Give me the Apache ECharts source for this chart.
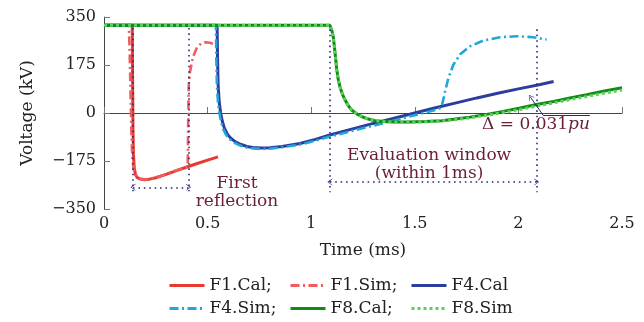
<!DOCTYPE html>
<html>
<head>
<meta charset="utf-8">
<script src="https://cdn.jsdelivr.net/npm/echarts@6/dist/echarts.min.js"></script>
<style>
  html, body { margin: 0; padding: 0; background: #fff; }
  #chart { width: 644px; height: 322px; }
</style>
</head>
<body>
<div id="chart"></div>
<script>
// [time (ms), voltage (kV)]
var f1Cal = [[0, 320], [0.136, 320], [0.137, 280], [0.138, 120], [0.14, -60], [0.142, -150], [0.146, -200],
  [0.152, -224], [0.16, -235], [0.175, -241], [0.195, -243], [0.215, -242], [0.25, -236], [0.3, -224],
  [0.35, -210], [0.4, -197], [0.45, -184], [0.5, -172], [0.55, -160]]
var f1Sim = [[0, 320], [0.12, 320], [0.124, 220], [0.128, 80], [0.132, -60], [0.136, -150], [0.142, -200],
  [0.15, -223], [0.16, -234], [0.175, -240], [0.195, -242], [0.215, -241], [0.25, -235], [0.3, -223],
  [0.35, -209], [0.404, -195], [0.406, -50], [0.409, 100], [0.415, 150], [0.43, 205], [0.449, 240],
  [0.47, 254], [0.49, 258], [0.51, 256], [0.533, 251]]
var f4Cal = [[0, 320], [0.546, 320], [0.548, 200], [0.551, 100], [0.556, 40], [0.563, 0], [0.571, -30],
  [0.581, -55], [0.596, -78], [0.612, -92], [0.636, -106], [0.662, -115], [0.69, -122], [0.72, -126],
  [0.76, -128], [0.8, -127], [0.86, -122], [0.946, -111], [1.02, -96], [1.09, -80], [1.2, -58],
  [1.3, -38], [1.4, -19], [1.5, 0], [1.6, 19], [1.7, 37], [1.8, 55], [1.9, 72], [2.0, 88], [2.1, 103],
  [2.17, 115]]
var f4Sim = [[0, 320], [0.54, 320], [0.542, 200], [0.545, 100], [0.55, 40], [0.557, 0], [0.565, -32],
  [0.575, -58], [0.59, -81], [0.605, -95], [0.63, -109], [0.655, -118], [0.69, -126], [0.72, -129],
  [0.76, -131], [0.8, -130], [0.86, -125], [0.946, -115], [1.02, -101], [1.09, -86], [1.2, -65],
  [1.3, -46], [1.4, -27], [1.5, -8], [1.6, 11], [1.625, 18], [1.635, 40], [1.646, 78], [1.662, 127],
  [1.686, 176], [1.718, 213], [1.766, 243], [1.83, 264], [1.911, 276], [1.992, 280], [2.072, 276],
  [2.136, 268]]
var f8Cal = [[0, 320], [1.09, 320], [1.1, 300], [1.107, 275], [1.115, 220], [1.123, 160], [1.131, 120],
  [1.139, 95], [1.15, 70], [1.163, 48], [1.178, 28], [1.195, 11], [1.22, -3], [1.244, -13], [1.275, -22],
  [1.308, -28], [1.35, -31], [1.4, -33], [1.47, -33], [1.55, -31], [1.63, -28], [1.686, -23],
  [1.766, -15], [1.847, -5], [1.927, 6], [2.008, 18], [2.088, 31], [2.17, 42], [2.249, 55], [2.33, 67],
  [2.41, 79], [2.5, 92]]
var f8Sim = [[0, 320], [1.09, 320], [1.1, 300], [1.107, 275], [1.115, 220], [1.123, 160], [1.131, 120],
  [1.139, 95], [1.15, 70], [1.163, 48], [1.178, 28], [1.195, 11], [1.22, -3], [1.244, -13], [1.275, -22],
  [1.308, -28], [1.35, -31], [1.4, -33], [1.47, -34], [1.55, -32], [1.63, -29], [1.686, -25],
  [1.766, -18], [1.847, -8], [1.927, 2], [2.008, 13], [2.088, 25], [2.17, 37], [2.249, 49], [2.33, 60],
  [2.41, 72], [2.5, 84]]

var seriesNames = ['F1.Cal;', 'F1.Sim;', 'F4.Cal', 'F4.Sim;', 'F8.Cal;', 'F8.Sim']
var xTicks = [0, 2.5, 0.5]
var yTicks = [-350, 350, 175]

// annotation guides, data coords
var firstRefl = { x0: 0.14, x1: 0.408, top: 310, bottom: -285, arrowY: -271 }
var evalWin = { x0: 1.09, x1: 2.088, top: 305, bottom: -289, arrowY: -252 }
var deltaPin = { tip: [2.058, 58], knee: [2.12, -9], end: [2.345, -9] }

var FONT = 'DejaVu Serif'
var NAVY = '#2b2a78'
var MAROON = '#6a1d36'
var chevron = 'path://M5,0 L10,10 L9,10 L5,2.2 L1,10 L0,10 Z'
var dashDot = [9, 3.5, 2, 3.5]

var chart = echarts.init(document.getElementById('chart'))

function lineSeries(name, data, color, type, width) {
  return {
    name: name,
    type: 'line',
    data: data,
    symbol: 'none',
    smooth: false,
    lineStyle: { color: color, width: width, type: type, cap: 'butt' },
    itemStyle: { color: color },
    emphasis: { disabled: true },
    z: 3
  }
}

function guide(a, b, opts) {
  opts = opts || {}
  return [{
    coord: a,
    symbol: opts.startSym || 'none',
    symbolSize: [7, 5],
    lineStyle: { color: NAVY, width: opts.width || 1.6, type: opts.type || [1.6, 3.8] }
  }, {
    coord: b,
    symbol: opts.endSym || 'none',
    symbolSize: [7, 5]
  }]
}

var guides = [
  guide([firstRefl.x0, firstRefl.top], [firstRefl.x0, firstRefl.bottom]),
  guide([firstRefl.x1, firstRefl.top], [firstRefl.x1, firstRefl.bottom]),
  guide([firstRefl.x0, firstRefl.arrowY], [firstRefl.x1, firstRefl.arrowY], { startSym: chevron, endSym: chevron }),
  guide([evalWin.x0, evalWin.top], [evalWin.x0, evalWin.bottom]),
  guide([evalWin.x1, evalWin.top], [evalWin.x1, evalWin.bottom]),
  guide([evalWin.x0, evalWin.arrowY], [evalWin.x1, evalWin.arrowY], { startSym: chevron, endSym: chevron }),
  guide(deltaPin.knee, deltaPin.tip, { type: 'solid', width: 1, endSym: chevron }),
  guide(deltaPin.knee, deltaPin.end, { type: 'solid', width: 1 })
]

function note(coord, text) {
  return {
    coord: coord,
    symbol: 'rect',
    symbolSize: 1,
    itemStyle: { color: 'rgba(0,0,0,0)' },
    label: {
      show: true,
      position: 'inside',
      formatter: text,
      color: MAROON,
      fontFamily: FONT,
      fontSize: 17,
      lineHeight: 18,
      align: 'center',
      rich: {
        it: { fontStyle: 'italic', color: MAROON, fontFamily: FONT, fontSize: 17 }
      }
    }
  }
}

var legendLeft = [163, 284, 405]
var legendTop = [272, 295]

var option = {
  animation: false,
  textStyle: { fontFamily: FONT },
  grid: { left: 104, right: 22, top: 17, bottom: 113, outerBoundsMode: 'none' },
  legend: seriesNames.map(function(n, i) {
    return {
      data: [n],
      left: legendLeft[i % 3],
      top: legendTop[Math.floor(i / 3)],
      itemWidth: 35,
      itemHeight: 14,
      itemStyle: { color: 'rgba(0,0,0,0)', borderWidth: 0 },
      lineStyle: { width: 3 },
      textStyle: { fontFamily: FONT, fontSize: 17, color: '#222' },
      selectedMode: false
    }
  }),
  xAxis: {
    type: 'value',
    min: xTicks[0],
    max: xTicks[1],
    interval: xTicks[2],
    name: 'Time (ms)',
    nameLocation: 'middle',
    nameGap: 33,
    nameTextStyle: { fontFamily: FONT, fontSize: 17, color: '#222' },
    axisLine: { show: true, lineStyle: { color: '#444', width: 1 } },
    axisTick: { show: true, inside: true, length: 6, lineStyle: { color: '#777' } },
    axisLabel: { margin: 7, fontFamily: FONT, fontSize: 16, color: '#222' },
    splitLine: { show: false }
  },
  yAxis: {
    type: 'value',
    min: yTicks[0],
    max: yTicks[1],
    interval: yTicks[2],
    name: 'Voltage (kV)',
    nameLocation: 'middle',
    nameGap: 68,
    nameTextStyle: { fontFamily: FONT, fontSize: 17, color: '#222' },
    axisLine: { show: true, lineStyle: { color: '#444', width: 1 } },
    axisTick: { show: true, inside: true, length: 6, lineStyle: { color: '#777' } },
    axisLabel: {
      margin: 8, fontFamily: FONT, fontSize: 16, color: '#222',
      formatter: function(v) { return String(v).replace('-', '\u2212') }
    },
    splitLine: { show: false }
  },
  series: [
    lineSeries(seriesNames[0], f1Cal, '#e8392e', 'solid', 3),
    lineSeries(seriesNames[1], f1Sim, '#f35b5e', dashDot, 2.6),
    lineSeries(seriesNames[2], f4Cal, '#2c3d9d', 'solid', 3),
    lineSeries(seriesNames[3], f4Sim, '#1fa6da', dashDot, 2.6),
    lineSeries(seriesNames[4], f8Cal, '#118a16', 'solid', 3),
    lineSeries(seriesNames[5], f8Sim, '#5ad25a', [3, 3], 3),
    {
      name: 'annotations',
      type: 'line',
      data: [],
      silent: true,
      z: 4,
      markLine: {
        silent: true,
        animation: false,
        label: { show: false },
        emphasis: { disabled: true },
        data: guides
      },
      markPoint: {
        silent: true,
        animation: false,
        data: [
          note([0.642, -290], 'First\nreflection'),
          note([1.569, -189], 'Evaluation window\n(within 1ms)'),
          note([2.085, -44], '\u0394 = 0.031{it|pu}')
        ]
      }
    }
  ]
}

chart.setOption(option)
</script>
</body>
</html>
